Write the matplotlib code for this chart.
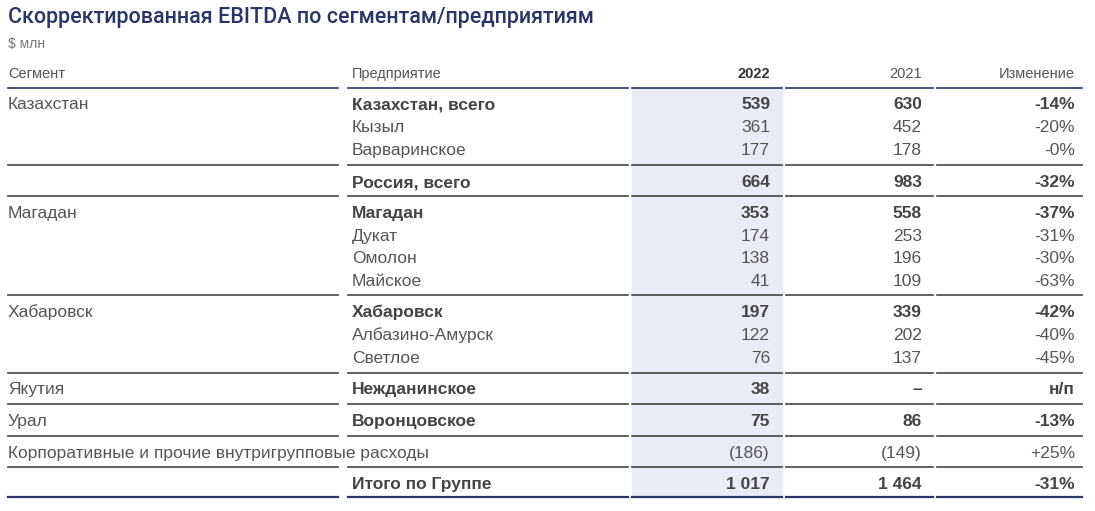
import matplotlib
matplotlib.use("Agg")
from matplotlib import pyplot

pyplot.rcParams['font.family'] = ['Liberation Sans', 'DejaVu Sans']

title = "Скорректированная EBITDA по сегментам/предприятиям"
unit = "$ млн"
headers = ["Сегмент", "Предприятие", "2022", "2021", "Изменение"]

segments = ["Казахстан", "", "", "", "Магадан", "", "", "", "Хабаровск", "", "",
            "Якутия", "Урал", "Корпоративные и прочие внутригрупповые расходы", ""]
enterprises = ["Казахстан, всего", "Кызыл", "Варваринское", "Россия, всего",
               "Магадан", "Дукат", "Омолон", "Майское",
               "Хабаровск", "Албазино-Амурск", "Светлое",
               "Нежданинское", "Воронцовское", "", "Итого по Группе"]
values_2022 = ["539", "361", "177", "664", "353", "174", "138", "41",
               "197", "122", "76", "38", "75", "(186)", "1 017"]
values_2021 = ["630", "452", "178", "983", "558", "253", "196", "109",
               "339", "202", "137", "–", "86", "(149)", "1 464"]
changes = ["-14%", "-20%", "-0%", "-32%", "-37%", "-31%", "-30%", "-63%",
           "-42%", "-40%", "-45%", "н/п", "-13%", "+25%", "-31%"]
bold_rows = [0, 3, 4, 8, 11, 12, 14]

# разметка в пикселях (базовая линия текста)
row_y = [109, 132, 155, 187, 218, 241, 263, 286, 317, 340, 363, 394, 426, 458, 489]
line_y = [165, 196, 295, 373, 404, 436, 467]
col_spans = [(8, 338), (348, 628), (632, 782), (786, 933), (937, 1082)]

navy = "#2b3467"
grey = "#555555"

fig = pyplot.figure(figsize=(10.95, 5.11), dpi=100)
ax = fig.add_axes([0, 0, 1, 1])
ax.set_xlim(0, 1095)
ax.set_ylim(511, 0)
ax.axis("off")

# подсветка колонки 2022
ax.axvspan(632, 782, ymin=1 - 497 / 511, ymax=1 - 88 / 511, color="#e9ecf7", zorder=0)

ax.text(8, 23, title, fontsize=15.5, color=navy, va="baseline", ha="left",
        family=["Roboto", "DejaVu Sans"], fontweight="medium")
ax.text(8, 48, unit, fontsize=10, color="#777777", va="baseline")

hx = [8, 352, 770, 922, 1075]
ha = ["left", "left", "right", "right", "right"]
for i, h in enumerate(headers):
    ax.text(hx[i], 78, h, fontsize=10.5, color=grey if i != 2 else "#333333",
            ha=ha[i], va="baseline", fontweight="bold" if i == 2 else "normal")

for x0, x1 in col_spans:
    ax.plot([x0, x1], [88, 88], color=navy, lw=1.2)
    ax.plot([x0, x1], [497, 497], color=navy, lw=1.6)
    for y in line_y:
        ax.plot([x0, x1], [y, y], color="#444444", lw=1.2)

for i, y in enumerate(row_y):
    w = "bold" if i in bold_rows else "normal"
    c = "#444444" if w == "bold" else grey
    ax.text(8, y, segments[i], fontsize=12.5, color=grey, va="baseline")
    ax.text(352, y, enterprises[i], fontsize=12.5, color=c, va="baseline", fontweight=w)
    for x, v in zip([770, 922, 1075], [values_2022[i], values_2021[i], changes[i]]):
        ax.text(x, y, v, fontsize=12.5, color=c, ha="right", va="baseline", fontweight=w)

fig.savefig("out.png", dpi=100)
pyplot.close(fig)
